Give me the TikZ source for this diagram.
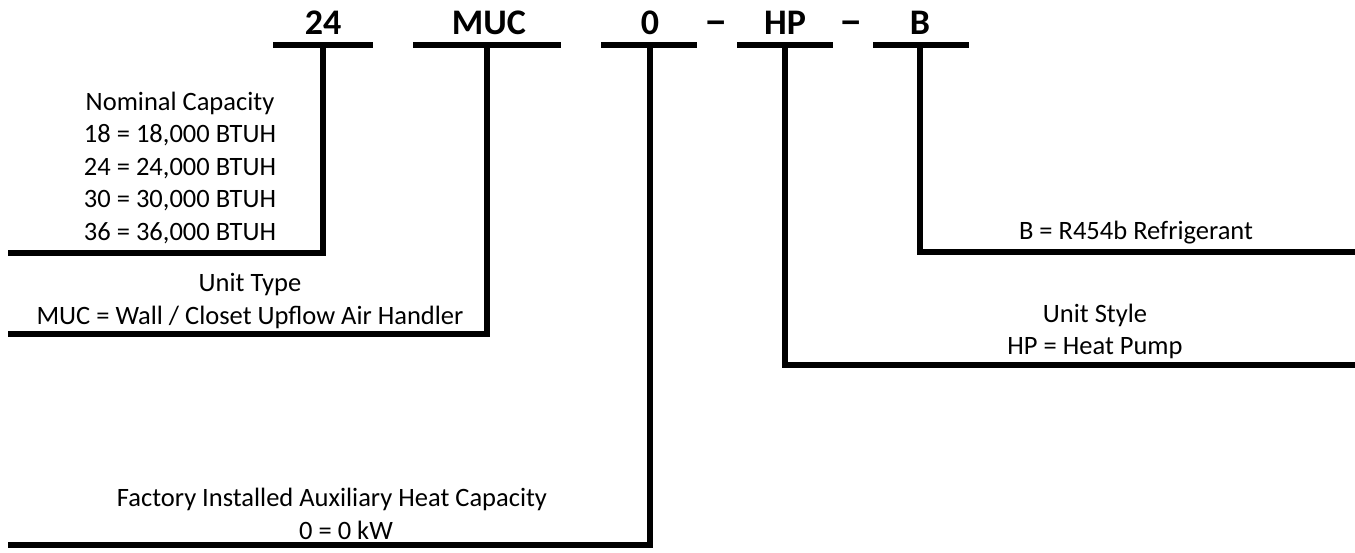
\documentclass[tikz,border=0pt]{standalone}
\usepackage{fontspec}
\setmainfont{Carlito}
\begin{document}
\begin{tikzpicture}[x=1pt,y=-1pt,
  heavy/.style={line width=5.5pt,line cap=butt,line join=miter},
  code/.style={font=\fontsize{36}{40}\selectfont\bfseries,inner sep=0pt,anchor=base},
  desc/.style={font=\fontsize{26.5}{32.5}\selectfont,align=center,inner sep=0pt}]
\useasboundingbox (0,0) rectangle (1355,552);
\fill[white] (0,0) rectangle (1355,552);
% header codes
\node[code] (h24) at (323,34) {24};
\node[code] (hMUC) at (489,34) {MUC};
\node[code] (h0) at (650,34) {0};
\node[code] (d1) at (716,34) {\scalebox{1.3}[1.15]{–}};
\node[code] (hHP) at (785,34) {HP};
\node[code] (d2) at (851,34) {\scalebox{1.3}[1.15]{–}};
\node[code] (hB) at (920,34) {B};
% underlines
\coordinate (u24a) at (273,45); \coordinate (u24b) at (373,45);
\coordinate (uMa) at (413,45); \coordinate (uMb) at (561,45);
\coordinate (u0a) at (601,45); \coordinate (u0b) at (697,45);
\coordinate (uHa) at (737,45); \coordinate (uHb) at (833,45);
\coordinate (uBa) at (873,45); \coordinate (uBb) at (969,45);
\draw[heavy] (u24a) -- (u24b);
\draw[heavy] (uMa) -- (uMb);
\draw[heavy] (u0a) -- (u0b);
\draw[heavy] (uHa) -- (uHb);
\draw[heavy] (uBa) -- (uBb);
% stems and legs
\coordinate (s24) at (323,45); \coordinate (c24) at (323,253); \coordinate (e24) at (8,253);
\coordinate (sM) at (487,45); \coordinate (cM) at (487,334); \coordinate (eM) at (8,334);
\coordinate (s0) at (650,45); \coordinate (c0) at (650,545); \coordinate (e0) at (8,545);
\coordinate (sH) at (785,45); \coordinate (cH) at (785,365); \coordinate (eH) at (1355,365);
\coordinate (sB) at (920,45); \coordinate (cB) at (920,252); \coordinate (eB) at (1355,252);
\draw[heavy] (s24) -- (c24) -- (e24);
\draw[heavy] (sM) -- (cM) -- (eM);
\draw[heavy] (s0) -- (c0) -- (e0);
\draw[heavy] (sH) -- (cH) -- (eH);
\draw[heavy] (sB) -- (cB) -- (eB);
% descriptions
\node[desc] (tcap) at (180,167.5) {Nominal Capacity\\18 = 18,000 BTUH\\24 = 24,000 BTUH\\30 = 30,000 BTUH\\36 = 36,000 BTUH};
\node[desc] (ttype) at (250,301) {Unit Type\\MUC = Wall / Closet Upflow Air Handler};
\node[desc] (theat) at (332,499) {Factory Installed Auxiliary Heat Capacity};
\node[desc] (theat2) at (346,530) {0 = 0 kW};
\node[desc] (tref) at (1136,233) {B = R454b Refrigerant};
\node[desc] (tstyle) at (1095,331.5) {Unit Style\\HP = Heat Pump};
\end{tikzpicture}
\end{document}
